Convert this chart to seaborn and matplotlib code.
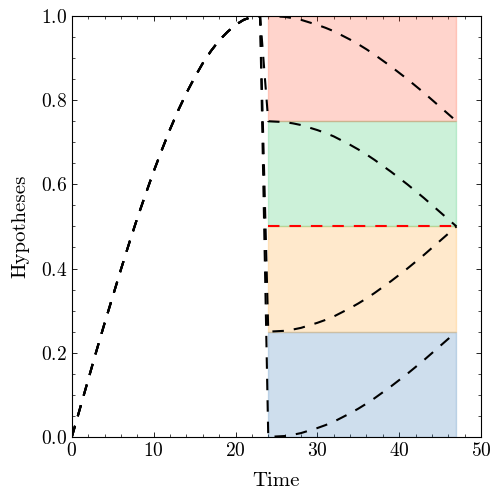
"""
plot.py

Hypothesis trajectories over time with coloured hypothesis bands.
"""

import numpy as np
import pandas as pd
import matplotlib
matplotlib.use("Agg")
import matplotlib.pyplot as plt
from matplotlib.ticker import MultipleLocator
import seaborn as sns

# ============================================================================
# 1. Data
# ============================================================================
time = list(range(48))

# shared rise, t = 0..23
ramp = [0.000, 0.068, 0.136, 0.204, 0.270, 0.334, 0.398, 0.460, 0.520, 0.576,
        0.631, 0.682, 0.731, 0.776, 0.817, 0.854, 0.888, 0.917, 0.942, 0.962,
        0.979, 0.991, 0.998, 1.000]

# each hypothesis, t = 24..47
h_top = [1.000, 0.999, 0.998, 0.995, 0.991, 0.985, 0.979, 0.972, 0.964, 0.954,
         0.944, 0.933, 0.921, 0.908, 0.894, 0.880, 0.865, 0.850, 0.834, 0.818,
         0.801, 0.784, 0.767, 0.750]
h_upper = [0.750, 0.749, 0.748, 0.745, 0.741, 0.735, 0.729, 0.722, 0.714, 0.704,
           0.694, 0.683, 0.671, 0.658, 0.644, 0.630, 0.615, 0.600, 0.584, 0.568,
           0.551, 0.534, 0.517, 0.500]
h_lower = [0.250, 0.251, 0.252, 0.255, 0.259, 0.265, 0.271, 0.278, 0.286, 0.296,
           0.306, 0.317, 0.329, 0.342, 0.356, 0.370, 0.385, 0.400, 0.416, 0.432,
           0.449, 0.466, 0.483, 0.500]
h_bottom = [0.000, 0.001, 0.002, 0.005, 0.009, 0.015, 0.021, 0.028, 0.036, 0.046,
            0.056, 0.067, 0.079, 0.092, 0.106, 0.120, 0.135, 0.150, 0.166, 0.182,
            0.199, 0.216, 0.233, 0.250]

threshold = 0.5
band_start, band_end = 24, 47
band_edges = [0.0, 0.25, 0.5, 0.75, 1.0]
band_colors = ['#0C5DA5', '#FF9500', '#00B945', '#FF2C00']

# ============================================================================
# 2. Style
# ============================================================================
sns.set_theme(style='ticks')
plt.rcParams['font.family'] = ['cmr10', 'DejaVu Serif']
plt.rcParams['mathtext.fontset'] = 'cm'
plt.rcParams['axes.formatter.use_mathtext'] = True
plt.rcParams['axes.unicode_minus'] = False
plt.rcParams['axes.edgecolor'] = 'black'
plt.rcParams['axes.labelcolor'] = 'black'
plt.rcParams['text.color'] = 'black'
plt.rcParams['axes.linewidth'] = 0.8
for ax_name in ['xtick', 'ytick']:
    plt.rcParams[f'{ax_name}.direction'] = 'in'
    plt.rcParams[f'{ax_name}.major.size'] = 3.5
    plt.rcParams[f'{ax_name}.minor.size'] = 2
    plt.rcParams[f'{ax_name}.major.width'] = 0.6
    plt.rcParams[f'{ax_name}.minor.width'] = 0.5
    plt.rcParams[f'{ax_name}.color'] = 'black'
    plt.rcParams[f'{ax_name}.labelcolor'] = 'black'
    plt.rcParams[f'{ax_name}.labelsize'] = 14
plt.rcParams['xtick.top'] = True
plt.rcParams['ytick.right'] = True

DASH = (0, (5.5, 4.8))

# ============================================================================
# 3. Figure
# ============================================================================
fig = plt.figure(figsize=(4.99, 5.01), dpi=100)
ax = fig.add_axes([0.144, 0.128, 0.820, 0.840])

for i, col in enumerate(band_colors):
    ax.fill_between([band_start, band_end], band_edges[i], band_edges[i + 1],
                    color=col, alpha=0.2, edgecolor=col, linewidth=1.0, zorder=1)

rows = []
for name, tail in [('top', h_top), ('upper', h_upper), ('lower', h_lower), ('bottom', h_bottom)]:
    for t, v in zip(time, ramp + tail):
        rows.append({'Time': t, 'value': v, 'hyp': name})
df = pd.DataFrame(rows)

for name in ['top', 'upper', 'lower', 'bottom']:
    sub = df[df['hyp'] == name]
    sns.lineplot(data=sub, x='Time', y='value', ax=ax, color='black',
                 linestyle=DASH, linewidth=1.5, zorder=3)

ax.plot([band_start, band_end], [threshold, threshold], color='red',
        linestyle=DASH, linewidth=1.5, zorder=4)

ax.set_xlim(0, 50)
ax.set_ylim(0, 1)
ax.xaxis.set_major_locator(MultipleLocator(10))
ax.xaxis.set_minor_locator(MultipleLocator(2))
ax.yaxis.set_major_locator(MultipleLocator(0.2))
ax.yaxis.set_minor_locator(MultipleLocator(0.05))
ax.tick_params(which='both', direction='in', top=True, right=True)
ax.set_xlabel('Time', fontsize=15, labelpad=9)
ax.set_ylabel('Hypotheses', fontsize=15, labelpad=8)

fig.savefig('out.png', dpi=100)
